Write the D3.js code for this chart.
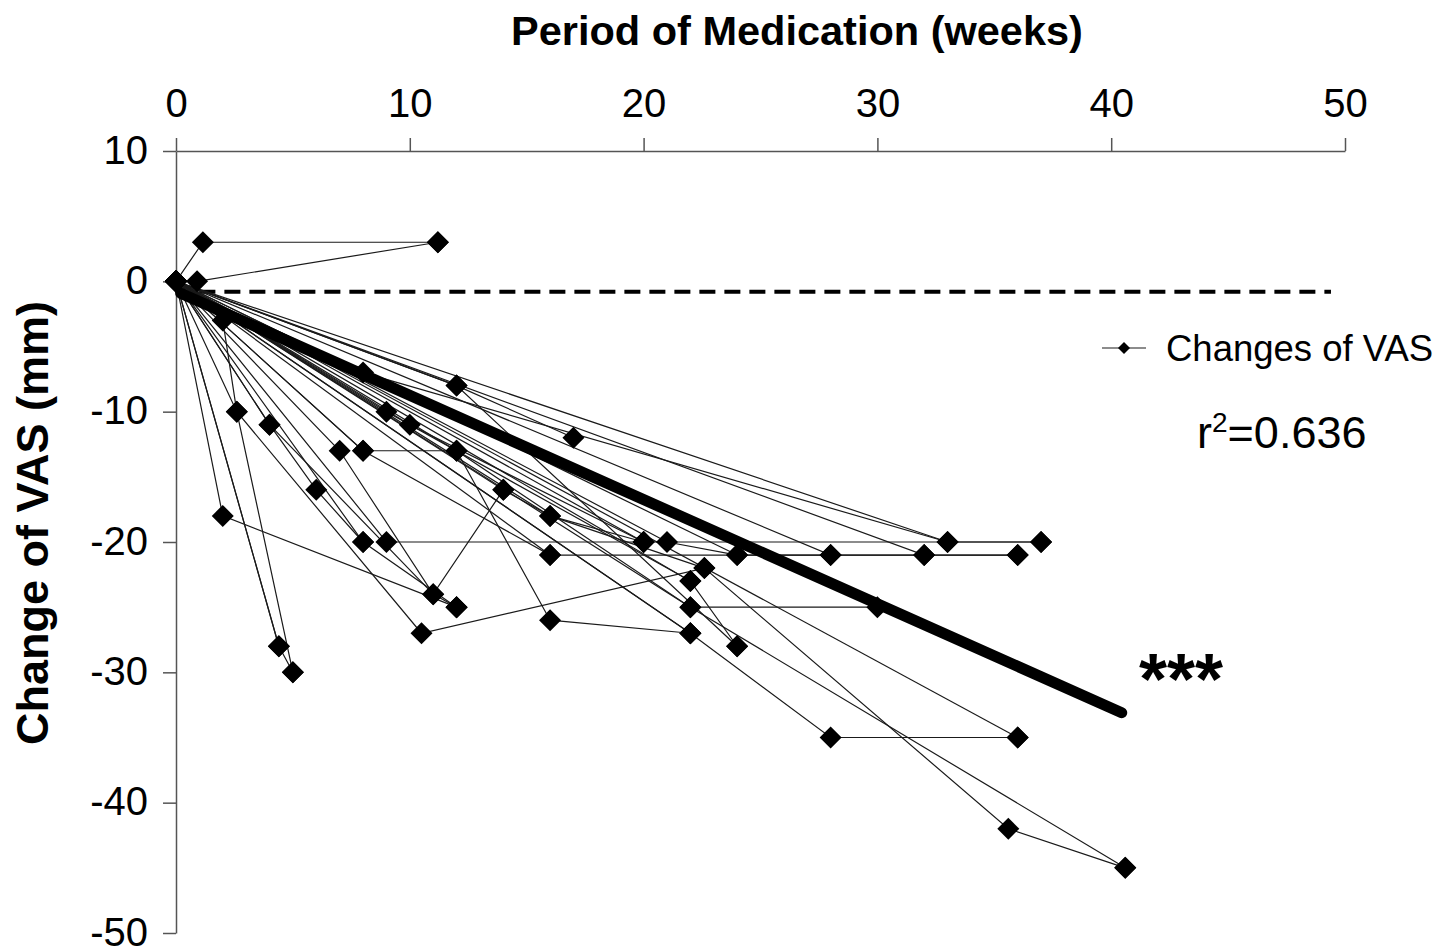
<!DOCTYPE html>
<html>
<head>
<meta charset="utf-8">
<script src="https://cdn.jsdelivr.net/npm/d3@7"></script>
<style>
  html, body { margin: 0; padding: 0; background: #fff; }
  svg { display: block; }
  text { font-family: "Liberation Sans", Arial, Helvetica, sans-serif; fill: #000; }
</style>
</head>
<body>
<svg id="chart" width="1454" height="951"></svg>
<script>
// ---------------- data ----------------
const xTicks = [0, 10, 20, 30, 40, 50];
const yTicks = [10, 0, -10, -20, -30, -40, -50];

// each patient's trajectory: weeks of medication and change of VAS (mm)
const patientWeeks = [
  [0, 1.15, 11.2],
  [0, 0.9, 11.2],
  [0, 2, 2.6, 5],
  [0, 2.6, 10.5, 22.6, 35.6, 40.6],
  [0, 4.4],
  [0, 4.4, 5],
  [0, 4, 6, 8],
  [0, 4, 11, 14, 16, 20],
  [0, 2, 12],
  [0, 7, 11, 12],
  [0, 8, 12, 16, 22],
  [0, 8, 16, 36],
  [0, 9, 37],
  [0, 8, 12],
  [0, 8, 33],
  [0, 12, 17],
  [0, 12, 24],
  [0, 9, 22],
  [0, 10, 20],
  [0, 16, 22.6],
  [0, 12, 22, 30],
  [0, 22, 40.6],
  [0, 21, 24, 28],
  [0, 28, 32],
  [0, 22, 28, 36],
  [0, 36],
  [0, 33, 37],
  [0, 32, 36],
  [0, 24],
  [0, 22, 24],
  [0, 14],
  [0, 20],
  [0, 16],
  [0, 22]
];
const patientVAS = [
  [0, 3, 3],
  [0, 0, 3],
  [0, -3, -10, -30],
  [0, -10, -27, -22, -42, -45],
  [0, -28],
  [0, -28, -30],
  [0, -11, -16, -20],
  [0, -11, -24, -16, -18, -20],
  [0, -18, -25],
  [0, -13, -24, -25],
  [0, -13, -13, -26, -27],
  [0, -13, -21, -21],
  [0, -20, -20],
  [0, -20, -25],
  [0, -7, -20],
  [0, -8, -12],
  [0, -8, -28],
  [0, -10, -23],
  [0, -11, -20],
  [0, -18, -22],
  [0, -13, -25, -25],
  [0, -25, -45],
  [0, -20, -21, -21],
  [0, -21, -21],
  [0, -27, -35, -35],
  [0, -35],
  [0, -20, -20],
  [0, -21, -21],
  [0, -21],
  [0, -23, -28],
  [0, -16],
  [0, -20],
  [0, -21],
  [0, -27]
];

// regression line (fitted trend) end points
const regWeeks = [0.2, 40.45];
const regVAS = [-0.91, -33.1];

// dashed reference line
const refWeeks = [1.0, 49.4];
const refVAS = [-0.8, -0.8];

const seriesName = "Changes of VAS";
const r2Text = "0.636";

// ---------------- chart ----------------
const svg = d3.select("#chart");
svg.append("rect").attr("width", 1454).attr("height", 951).attr("fill", "#fff");

const x = d3.scaleLinear().domain([0, 50]).range([176, 1345]);
const y = d3.scaleLinear().domain([-50, 10]).range([933, 151]);

const axisColor = "#555";

// top x axis
const gx = svg.append("g").attr("transform", `translate(0,${y(10)})`)
  .call(d3.axisTop(x).tickValues(xTicks).tickSize(13).tickSizeOuter(0).tickPadding(21).tickFormat(d3.format("d")));
// left y axis
const gy = svg.append("g").attr("transform", `translate(${x(0)},0)`)
  .call(d3.axisLeft(y).tickValues(yTicks).tickSize(13).tickSizeOuter(0).tickPadding(15).tickFormat(d3.format("d")));

[gx, gy].forEach(g => {
  g.select(".domain").attr("stroke", axisColor).attr("stroke-width", 1.5);
  g.selectAll(".tick line").attr("stroke", axisColor).attr("stroke-width", 1.5);
  g.selectAll(".tick text").attr("font-size", 40).attr("fill", "#000")
    .style("font-family", '"Liberation Sans", Arial, sans-serif');
});
gy.selectAll(".tick text").text(d => d < 0 ? "-" + Math.abs(d) : d).attr("dy", "0.3em");

// axis titles
svg.append("text").attr("x", 797).attr("y", 45).attr("text-anchor", "middle")
  .attr("font-size", 41.5).attr("font-weight", "bold").text("Period of Medication (weeks)");
svg.append("text").attr("transform", "translate(48,523) rotate(-90)").attr("text-anchor", "middle")
  .attr("font-size", 45).attr("font-weight", "bold").text("Change of VAS (mm)");

// dashed reference line
svg.append("line")
  .attr("x1", x(refWeeks[0])).attr("x2", x(refWeeks[1]))
  .attr("y1", y(refVAS[0])).attr("y2", y(refVAS[1]))
  .attr("stroke", "#000").attr("stroke-width", 4).attr("stroke-dasharray", "16,9");

// patient lines
const lineGen = d3.line().x(d => x(d[0])).y(d => y(d[1]));
const trajectories = patientWeeks.map((w, i) => w.map((wk, j) => [wk, patientVAS[i][j]]));

svg.append("g").selectAll("path").data(trajectories).join("path")
  .attr("d", lineGen).attr("fill", "none").attr("stroke", "#1a1a1a").attr("stroke-width", 1.2);

// regression line
svg.append("line")
  .attr("x1", x(regWeeks[0])).attr("y1", y(regVAS[0]))
  .attr("x2", x(regWeeks[1])).attr("y2", y(regVAS[1]))
  .attr("stroke", "#000").attr("stroke-width", 11).attr("stroke-linecap", "round");

// markers
const diamond = r => `M0,${-r}L${r},0L0,${r}L${-r},0Z`;
const pts = trajectories.flat();
svg.append("g").selectAll("path").data(pts).join("path")
  .attr("transform", d => `translate(${x(d[0])},${y(d[1])})`)
  .attr("d", diamond(11)).attr("fill", "#000");

// legend
const lg = svg.append("g").attr("transform", "translate(1102,348)");
lg.append("line").attr("x1", 0).attr("x2", 44).attr("y1", 0).attr("y2", 0)
  .attr("stroke", "#1a1a1a").attr("stroke-width", 1.2);
lg.append("path").attr("transform", "translate(22,0)").attr("d", diamond(6)).attr("fill", "#000");
lg.append("text").attr("x", 64).attr("y", 13).attr("font-size", 36.5).text(seriesName);

// r^2 annotation
const rt = svg.append("text").attr("x", 1197).attr("y", 448).attr("font-size", 45);
rt.append("tspan").text("r");
rt.append("tspan").attr("font-size", 28).attr("dy", -16).text("2");
rt.append("tspan").attr("dy", 16).text("=" + r2Text);

// significance
svg.append("text").attr("x", 1139).attr("y", 704).attr("font-size", 72).attr("font-weight", "bold").text("***");
</script>
</body>
</html>
